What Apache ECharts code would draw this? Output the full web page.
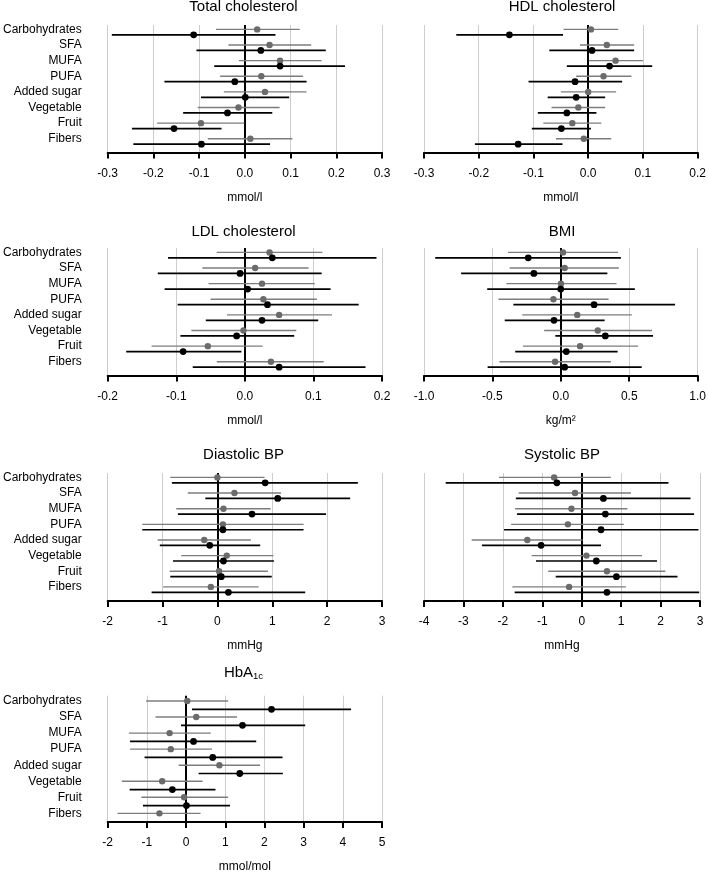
<!DOCTYPE html>
<html>
<head>
<meta charset="utf-8">
<script src="https://cdn.jsdelivr.net/npm/echarts@6/dist/echarts.min.js"></script>
<style>
html,body{margin:0;padding:0;background:#fff;}
#chart{width:709px;height:874px;}
</style>
</head>
<body>
<div id="chart"></div>
<script>
const categories = ['Carbohydrates','SFA','MUFA','PUFA','Added sugar','Vegetable','Fruit','Fibers'];

// Total cholesterol (mmol/l)
const tcGreyEst  = [0.027, 0.054, 0.077, 0.036, 0.044, -0.014, -0.096, 0.012];
const tcGreyLo   = [-0.063, -0.036, -0.013, -0.054, -0.046, -0.103, -0.192, -0.081];
const tcGreyHi   = [0.120, 0.145, 0.168, 0.127, 0.135, 0.076, -0.001, 0.104];
const tcBlackEst = [-0.112, 0.035, 0.077, -0.022, 0.001, -0.038, -0.155, -0.095];
const tcBlackLo  = [-0.291, -0.106, -0.067, -0.176, -0.096, -0.135, -0.247, -0.244];
const tcBlackHi  = [0.067, 0.177, 0.219, 0.135, 0.097, 0.060, -0.051, 0.055];

// HDL cholesterol (mmol/l)
const hdlGreyEst  = [0.005, 0.034, 0.050, 0.028, 0.000, -0.018, -0.029, -0.008];
const hdlGreyLo   = [-0.045, -0.015, 0.001, -0.022, -0.050, -0.067, -0.082, -0.059];
const hdlGreyHi   = [0.055, 0.084, 0.100, 0.079, 0.051, 0.031, 0.024, 0.042];
const hdlBlackEst = [-0.144, 0.007, 0.039, -0.024, -0.022, -0.039, -0.049, -0.128];
const hdlBlackLo  = [-0.241, -0.071, -0.039, -0.109, -0.074, -0.092, -0.103, -0.207];
const hdlBlackHi  = [-0.046, 0.084, 0.117, 0.062, 0.031, 0.015, 0.005, -0.047];

// LDL cholesterol (mmol/l)
const ldlGreyEst  = [0.036, 0.015, 0.025, 0.027, 0.050, -0.002, -0.054, 0.038];
const ldlGreyLo   = [-0.041, -0.062, -0.053, -0.050, -0.026, -0.078, -0.136, -0.041];
const ldlGreyHi   = [0.113, 0.093, 0.102, 0.105, 0.127, 0.075, 0.026, 0.115];
const ldlBlackEst = [0.040, -0.007, 0.004, 0.033, 0.025, -0.012, -0.090, 0.050];
const ldlBlackLo  = [-0.112, -0.127, -0.117, -0.098, -0.057, -0.094, -0.173, -0.076];
const ldlBlackHi  = [0.192, 0.112, 0.125, 0.166, 0.107, 0.072, -0.005, 0.176];

// BMI (kg/m2)
const bmiGreyEst  = [0.016, 0.028, 0.001, -0.054, 0.120, 0.270, 0.141, -0.042];
const bmiGreyLo   = [-0.386, -0.374, -0.398, -0.456, -0.282, -0.122, -0.277, -0.449];
const bmiGreyHi   = [0.419, 0.424, 0.407, 0.349, 0.519, 0.666, 0.565, 0.366];
const bmiBlackEst = [-0.238, -0.197, -0.001, 0.243, -0.050, 0.325, 0.040, 0.028];
const bmiBlackLo  = [-0.918, -0.729, -0.538, -0.347, -0.410, -0.040, -0.333, -0.535];
const bmiBlackHi  = [0.439, 0.340, 0.541, 0.835, 0.320, 0.674, 0.415, 0.591];

// Diastolic BP (mmHg)
const dbpGreyEst  = [0.00, 0.31, 0.11, 0.10, -0.24, 0.17, 0.03, -0.12];
const dbpGreyLo   = [-0.86, -0.54, -0.75, -1.37, -1.09, -0.66, -0.87, -0.99];
const dbpGreyHi   = [0.86, 1.16, 0.97, 1.57, 0.61, 1.02, 0.92, 0.75];
const dbpBlackEst = [0.87, 1.10, 0.63, 0.10, -0.14, 0.11, 0.07, 0.20];
const dbpBlackLo  = [-0.83, -0.22, -0.72, -1.37, -1.05, -0.81, -0.86, -1.20];
const dbpBlackHi  = [2.56, 2.42, 1.98, 1.57, 0.78, 1.03, 0.99, 1.60];

// Systolic BP (mmHg)
const sbpGreyEst  = [-0.70, -0.17, -0.26, -0.35, -1.38, 0.12, 0.64, -0.32];
const sbpGreyLo   = [-2.10, -1.60, -1.69, -1.79, -2.79, -1.27, -0.85, -1.76];
const sbpGreyHi   = [0.74, 1.25, 1.16, 1.07, 0.02, 1.53, 2.12, 1.12];
const sbpBlackEst = [-0.63, 0.55, 0.60, 0.49, -1.03, 0.37, 0.88, 0.64];
const sbpBlackLo  = [-3.45, -1.67, -1.64, -1.97, -2.53, -1.16, -0.66, -1.70];
const sbpBlackHi  = [2.20, 2.76, 2.85, 2.96, 0.49, 1.91, 2.43, 2.98];

// HbA1c (mmol/mol)
const hbaGreyEst  = [0.03, 0.26, -0.42, -0.39, 0.85, -0.61, -0.05, -0.68];
const hbaGreyLo   = [-1.02, -0.78, -1.46, -1.43, -0.19, -1.64, -1.14, -1.75];
const hbaGreyHi   = [1.07, 1.30, 0.63, 0.66, 1.89, 0.42, 1.07, 0.37];
const hbaBlackEst = [2.18, 1.44, 0.19, 0.68, 1.37, -0.35, 0.01, null];
const hbaBlackLo  = [0.15, -0.13, -1.43, -1.06, 0.32, -1.44, -1.10, null];
const hbaBlackHi  = [4.21, 3.04, 1.79, 2.46, 2.47, 0.75, 1.12, null];

const FONT = '"Liberation Sans", Arial, Helvetica, sans-serif';

const cols = [{left:105, width:277}, {left:424, width:276}];
const rows = [
  {top:25,    height:127.5, yMin:-0.28, yMax:7.88, off:5.4, titleY:7},
  {top:248,   height:127.5, yMin:-0.28, yMax:7.88, off:5.4, titleY:231.5},
  {top:473,   height:128,   yMin:-0.28, yMax:7.9,  off:5.4, titleY:455},
  {top:695.7, height:127,   yMin:-0.33, yMax:7.54, off:8.3, titleY:672.5}
];

const panels = [
  {title:'Total cholesterol', unit:'mmol/l', r:0, c:0, min:-0.3, max:0.3, step:0.1, dec:1,
   grey:[tcGreyEst, tcGreyLo, tcGreyHi], black:[tcBlackEst, tcBlackLo, tcBlackHi]},
  {title:'HDL cholesterol', unit:'mmol/l', r:0, c:1, min:-0.3, max:0.2, step:0.1, dec:1,
   grey:[hdlGreyEst, hdlGreyLo, hdlGreyHi], black:[hdlBlackEst, hdlBlackLo, hdlBlackHi]},
  {title:'LDL cholesterol', unit:'mmol/l', r:1, c:0, min:-0.2, max:0.2, step:0.1, dec:1,
   grey:[ldlGreyEst, ldlGreyLo, ldlGreyHi], black:[ldlBlackEst, ldlBlackLo, ldlBlackHi]},
  {title:'BMI', unit:'kg/m²', r:1, c:1, min:-1.0, max:1.0, step:0.5, dec:1,
   grey:[bmiGreyEst, bmiGreyLo, bmiGreyHi], black:[bmiBlackEst, bmiBlackLo, bmiBlackHi]},
  {title:'Diastolic BP', unit:'mmHg', r:2, c:0, min:-2, max:3, step:1, dec:0,
   grey:[dbpGreyEst, dbpGreyLo, dbpGreyHi], black:[dbpBlackEst, dbpBlackLo, dbpBlackHi]},
  {title:'Systolic BP', unit:'mmHg', r:2, c:1, min:-4, max:3, step:1, dec:0,
   grey:[sbpGreyEst, sbpGreyLo, sbpGreyHi], black:[sbpBlackEst, sbpBlackLo, sbpBlackHi]},
  {title:'{m|HbA}{s|1c}', unit:'mmol/mol', r:3, c:0, min:-2, max:5, step:1, dec:0,
   grey:[hbaGreyEst, hbaGreyLo, hbaGreyHi], black:[hbaBlackEst, hbaBlackLo, hbaBlackHi]}
];

function toData(arrs) {
  const out = [];
  for (let i = 0; i < categories.length; i++) {
    if (arrs[0][i] == null) continue;
    out.push([arrs[1][i], arrs[2][i], arrs[0][i], i]);
  }
  return out;
}

function makeRender(offPx, lineColor, dotColor, lw, r) {
  return function (params, api) {
    const idx = api.value(3);
    const a = api.coord([api.value(0), idx]);
    const b = api.coord([api.value(1), idx]);
    const c = api.coord([api.value(2), idx]);
    const y = a[1] + offPx;
    return {
      type: 'group',
      children: [
        {type:'line', shape:{x1:a[0], y1:y, x2:b[0], y2:y}, style:{stroke:lineColor, lineWidth:lw}},
        {type:'circle', shape:{cx:c[0], cy:y, r:r}, style:{fill:dotColor}}
      ]
    };
  };
}

const grid = [], xAxis = [], yAxis = [], series = [], graphic = [];
panels.forEach((p, k) => {
  const col = cols[p.c], row = rows[p.r];
  grid.push({left:col.left, width:col.width, top:row.top, height:row.height, containLabel:false});
  xAxis.push({
    type:'value', gridIndex:k, min:p.min, max:p.max, interval:p.step,
    axisLine:{show:true, onZero:false, lineStyle:{color:'#000', width:2}},
    axisTick:{show:true, length:6, lineStyle:{color:'#000', width:2}},
    axisLabel:{fontSize:12, color:'#000', fontFamily:FONT, margin:15,
      formatter: v => Number(v).toFixed(p.dec)},
    splitLine:{show:true, lineStyle:{color:'#cdcdcd', width:1}},
    name:p.unit, nameLocation:'middle', nameGap:39,
    nameTextStyle:{fontSize:12, color:'#000', fontFamily:FONT}
  });
  yAxis.push({
    type:'value', gridIndex:k, inverse:true, min:row.yMin, max:row.yMax,
    axisLine:{show:false, onZero:false}, axisTick:{show:false}, splitLine:{show:false},
    axisLabel:{show:p.c === 0, customValues:[0,1,2,3,4,5,6,7], margin:26,
      fontSize:12, color:'#000', fontFamily:FONT,
      formatter: v => categories[Math.round(v)] || ''}
  });
  series.push({
    type:'custom', xAxisIndex:k, yAxisIndex:k, z:2,
    dimensions:['lo','hi','est','idx'], encode:{x:['lo','hi','est'], y:'idx'},
    renderItem: makeRender(0, '#7d7d7d', '#6b6b6b', 1.4, 3.2),
    data: toData(p.grey),
    markLine:{silent:true, symbol:['none','none'], label:{show:false},
      lineStyle:{color:'#000', width:2, type:'solid'}, data:[{xAxis:0}], z:1}
  });
  series.push({
    type:'custom', xAxisIndex:k, yAxisIndex:k, z:3,
    dimensions:['lo','hi','est','idx'], encode:{x:['lo','hi','est'], y:'idx'},
    renderItem: makeRender(row.off, '#000', '#000', 1.7, 3.4),
    data: toData(p.black)
  });
  graphic.push({
    type:'text', x: col.left + col.width / 2, y: row.titleY,
    style:{text:p.title, fill:'#000', font:'15px ' + FONT, textAlign:'center', textVerticalAlign:'middle',
      rich:{m:{fontSize:15, fontFamily:FONT, fill:'#000', lineHeight:17},
            s:{fontSize:9.5, fontFamily:FONT, fill:'#000', lineHeight:17, verticalAlign:'bottom', padding:[7,0,0,0]}}}
  });
});

const chart = echarts.init(document.getElementById('chart'), null, {renderer:'canvas'});
chart.setOption({
  animation:false,
  backgroundColor:'#fff',
  textStyle:{fontFamily:FONT},
  grid, xAxis, yAxis, series, graphic
});
</script>
</body>
</html>
